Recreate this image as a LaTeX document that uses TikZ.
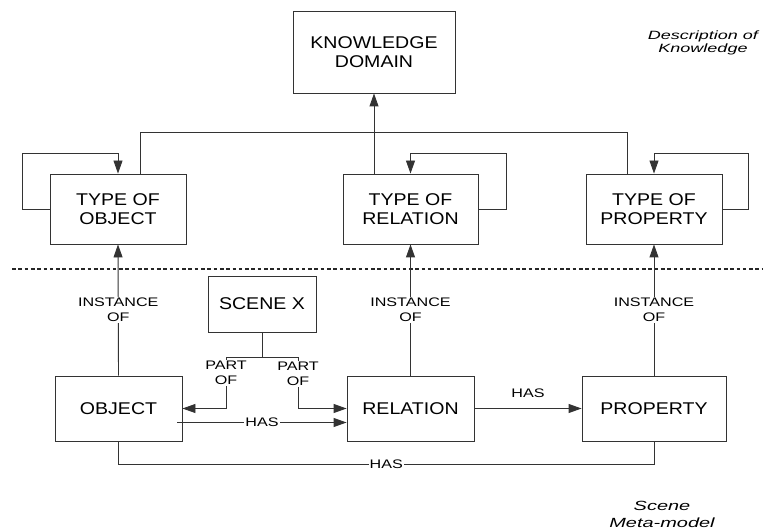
\documentclass[tikz,border=0pt]{standalone}
\usepackage{fontspec}
\setmainfont{Liberation Sans}
\newfontfamily\boxfont[FakeStretch=1.15]{Liberation Sans}
\newfontfamily\labfont[FakeStretch=1.3]{Liberation Sans}
\newfontfamily\notefont[FakeStretch=1.5]{Liberation Sans}
\usetikzlibrary{arrows.meta}
\tikzset{
  x=1pt, y=-1pt,
  wire/.style={draw=black!80, line width=0.9pt},
  arr/.style={wire, -{Triangle[length=13pt,width=9pt]}},
  box/.style={draw=black!80, line width=0.9pt, inner sep=0pt, align=center,
    font=\boxfont\fontsize{17}{18.5}\selectfont},
  lab/.style={fill=white, inner sep=1pt, align=center,
    font=\labfont\fontsize{12.4}{15.3}\selectfont},
  note/.style={align=center, inner sep=0pt},
  sepline/.style={draw=black!85, line width=2pt, dash pattern=on 3.6pt off 2.7pt}
}
\begin{document}
\begin{tikzpicture}
\useasboundingbox (0,0) rectangle (763,529);

% upper level: description of knowledge
\node[box, minimum width=162pt, minimum height=82pt] (KD) at (374,52) {KNOWLEDGE\\DOMAIN};
\node[box, minimum width=136pt, minimum height=70pt] (TO) at (118,209) {TYPE OF\\OBJECT};
\node[box, minimum width=135pt, minimum height=70pt] (TR) at (410.5,209) {TYPE OF\\RELATION};
\node[box, minimum width=136pt, minimum height=70pt] (TP) at (654,209) {TYPE OF\\PROPERTY};

% lower level: scene meta-model
\node[box, minimum width=108pt, minimum height=56pt] (SX) at (262,304) {SCENE X};
\node[box, minimum width=127pt, minimum height=65pt] (OB) at (118.5,408.5) {OBJECT};
\node[box, minimum width=127pt, minimum height=65pt] (RE) at (410.5,408.5) {RELATION};
\node[box, minimum width=144pt, minimum height=65pt] (PR) at (654,408.5) {PROPERTY};

% side notes
\node[note, font=\notefont\itshape\fontsize{12}{13.5}\selectfont] (n1) at (703,43) {Description of\\Knowledge};
\node[note, font=\notefont\itshape\fontsize{13.3}{17}\selectfont] (n2) at (662,514) {Scene\\Meta-model};

% separator between the two levels
\coordinate (sepL) at (12,269);
\coordinate (sepR) at (763,269);
\draw[sepline] (sepL) -- (sepR);

% bus joining the three types to the knowledge domain
\coordinate (busL) at (140,132);
\coordinate (busR) at (627,132);
\draw[wire] (TO.north -| busL) -- (busL) -- (busR) -- (TP.north -| busR);
\draw[arr] (TR.north -| KD.south) -- (KD.south);

% self-references of the types
\draw[arr] (TO.west) -- ++(-27,0) -- ++(0,-56) -| (TO.north);
\draw[arr] (TR.east) -- ++(28,0) -- ++(0,-56) -| (TR.north);
\draw[arr] (TP.east) -- ++(26,0) -- ++(0,-56) -| (TP.north);

% instance-of links
\draw[arr] (OB.north) -- node[lab]{INSTANCE\\OF} (TO.south);
\draw[arr] (RE.north) -- node[lab]{INSTANCE\\OF} (TR.south);
\draw[arr] (PR.north) -- node[lab]{INSTANCE\\OF} (TP.south);

% part-of links from the scene
\coordinate (pl) at (226,357);
\coordinate (pr) at (298,357);
\draw[wire] (SX.south) -- (SX.south |- pl);
\draw[wire] (pl) -- (pr);
\draw[arr] (pl) -- node[lab, pos=0.31]{PART\\OF} (pl |- OB.east) -- (OB.east);
\draw[arr] (pr) -- node[lab, pos=0.33]{PART\\OF} (pr |- RE.west) -- (RE.west);

% has links
\draw[arr] ([xshift=-5pt,yshift=-14pt]OB.east) -- node[lab]{HAS} ([yshift=-14pt]RE.west);
\draw[arr] (RE.east) -- node[lab, fill=none, yshift=15.5pt]{HAS} (PR.west);
\draw[wire] (OB.south) -- ++(0,23) -| node[lab, pos=0.25]{HAS} (PR.south);
\end{tikzpicture}
\end{document}
